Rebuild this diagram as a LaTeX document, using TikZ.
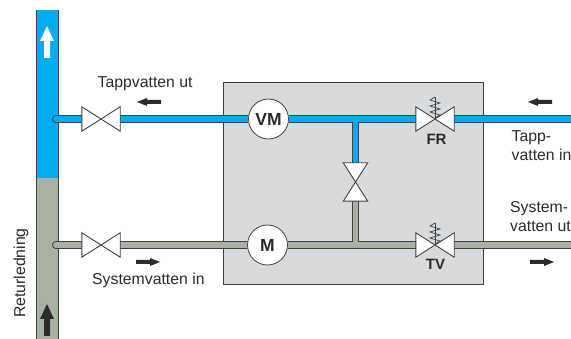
\documentclass[tikz,border=0pt]{standalone}
\usepackage{fontspec}
\setmainfont{Liberation Sans}
\definecolor{wblue}{HTML}{00AEEF}
\definecolor{wgrey}{HTML}{A9B1A0}
\definecolor{boxgrey}{HTML}{D9DADC}
\definecolor{edge}{HTML}{3C4246}
\definecolor{ink}{HTML}{2B2B2B}
\tikzset{
  pipeout/.style={draw=edge,line width=8pt},
  stemout/.style={draw=edge,line width=7.5pt},
  bluefill/.style={draw=wblue,line width=6pt},
  greyfill/.style={draw=wgrey,line width=6pt},
  bluestem/.style={draw=wblue,line width=5.5pt},
  greystem/.style={draw=wgrey,line width=5.5pt},
  gauge/.style={circle,draw=edge,line width=0.8pt,fill=white,minimum size=40pt,inner sep=0pt,font=\bfseries\fontsize{17.5}{18}\selectfont,text=ink},
  hslot/.style={rectangle,minimum width=38pt,minimum height=24pt,inner sep=0pt},
  vslot/.style={rectangle,minimum width=24pt,minimum height=38pt,inner sep=0pt},
  label/.style={font=\fontsize{15.8}{17}\selectfont,text=ink,inner sep=0pt,anchor=base west},
  tag/.style={font=\bfseries\fontsize{15}{16}\selectfont,text=ink,inner sep=0pt},
  valvepoly/.style={draw=edge,line width=0.9pt,fill=white,line join=miter},
  springline/.style={draw=edge,line width=0.7pt},
}
\newcommand{\hvalve}[1]{%
  \path[valvepoly] (#1.north west) -- (#1.south east) -- (#1.north east) -- (#1.south west) -- cycle;}
\newcommand{\vvalve}[1]{%
  \path[valvepoly] (#1.north west) -- (#1.south east) -- (#1.south west) -- (#1.north east) -- cycle;}
\newcommand{\spring}[1]{%
  \path[springline] (#1.center) -- ([shift={(0,-22)}]#1.center);
  \path[springline] ([shift={(0,-1)}]#1.center) -- ([shift={(5,-4)}]#1.center) -- ([shift={(-5,-7)}]#1.center) -- ([shift={(5,-10)}]#1.center) -- ([shift={(-5,-13)}]#1.center) -- ([shift={(5,-16)}]#1.center) -- ([shift={(-5,-19)}]#1.center) -- ([shift={(0,-22)}]#1.center);}
\newcommand{\arrowL}[3]{%
  \fill[#3] (#1,#2) -- (#1+10,#2-4) -- (#1+10,#2-2) -- (#1+24,#2-2) -- (#1+24,#2+2) -- (#1+10,#2+2) -- (#1+10,#2+4) -- cycle;}
\newcommand{\arrowR}[3]{%
  \fill[#3] (#1,#2) -- (#1-10,#2-4) -- (#1-10,#2-2) -- (#1-24,#2-2) -- (#1-24,#2+2) -- (#1-10,#2+2) -- (#1-10,#2+4) -- cycle;}
\newcommand{\arrowU}[4]{%
  \fill[#4] (#1,#2) -- (#1+7,#2+15) -- (#1+3,#2+15) -- (#1+3,#3) -- (#1-3,#3) -- (#1-3,#2+15) -- (#1-7,#2+15) -- cycle;}
\begin{document}
\begin{tikzpicture}[x=1pt,y=-1pt]
\useasboundingbox (0,0) rectangle (571,339);
% cabinet
\draw[fill=boxgrey,draw=edge,line width=0.9pt] (223,82) rectangle (483.5,284);
% riser
\fill[wblue] (36,10) rectangle (58,178);
\fill[wgrey] (36,178) rectangle (58,339);
\draw[edge,line width=1pt] (36,10) -- (36,339) (58,10) -- (58,339);
% named points
\coordinate (capA) at (56,119);
\coordinate (capB) at (56,245);
\coordinate (teeA) at (355.5,119);
\coordinate (teeB) at (355.5,245);
\coordinate (endA) at (571,119);
\coordinate (endB) at (571,245);
\node[hslot] (v1) at (101,119) {};
\node[hslot] (v2) at (101,245) {};
\node[vslot] (vc) at (355.5,182) {};
\node[hslot] (fr) at (435,119) {};
\node[hslot] (tv) at (435,245) {};
\node[gauge] (vm) at (268.5,119) {VM};
\node[gauge] (m) at (267.5,245) {M};
% pipe outlines
\draw[pipeout,line cap=round] (capA) -- (v1.west);
\draw[pipeout,line cap=round] (capB) -- (v2.west);
\draw[pipeout] (v1.east) -- (vm.west) (vm.east) -- (fr.west) (fr.east) -- (endA);
\draw[pipeout] (v2.east) -- (m.west) (m.east) -- (tv.west) (tv.east) -- (endB);
\draw[stemout] (teeA) -- (vc.north);
\draw[stemout] (teeB) -- (vc.south);
% pipe fills
\draw[bluefill,line cap=round] (capA) -- (v1.west);
\draw[greyfill,line cap=round] (capB) -- (v2.west);
\draw[bluefill] (v1.east) -- (vm.west) (vm.east) -- (fr.west) (fr.east) -- (endA);
\draw[greyfill] (v2.east) -- (m.west) (m.east) -- (tv.west) (tv.east) -- (endB);
\draw[bluestem] (teeA) -- (vc.north);
\draw[greystem] (teeB) -- (vc.south);
% valves
\hvalve{v1}
\hvalve{v2}
\vvalve{vc}
\hvalve{fr}
\hvalve{tv}
\spring{fr}
\spring{tv}
% flow arrows
\arrowU{47}{26}{58}{white}
\arrowU{47}{304}{336}{ink}
\arrowL{137}{102}{ink}
\arrowR{160}{262}{ink}
\arrowL{528}{102}{ink}
\arrowR{554}{262}{ink}
% labels
\node[label] (t1) at (97.5,88) {Tappvatten ut};
\node[label] (t2) at (92,285) {Systemvatten in};
\node[label,rotate=90] (t3) at (25,318) {Returledning};
\node[label] (t4) at (511.5,142) {Tapp-};
\node[label] (t5) at (511.5,161) {vatten in};
\node[label] (t6) at (510,213) {System-};
\node[label] (t7) at (510,232) {vatten ut};
\node[tag] (fr-l) at (436.5,139.5) {FR};
\node[tag] (tv-l) at (435.5,264) {TV};
\end{tikzpicture}
\end{document}
